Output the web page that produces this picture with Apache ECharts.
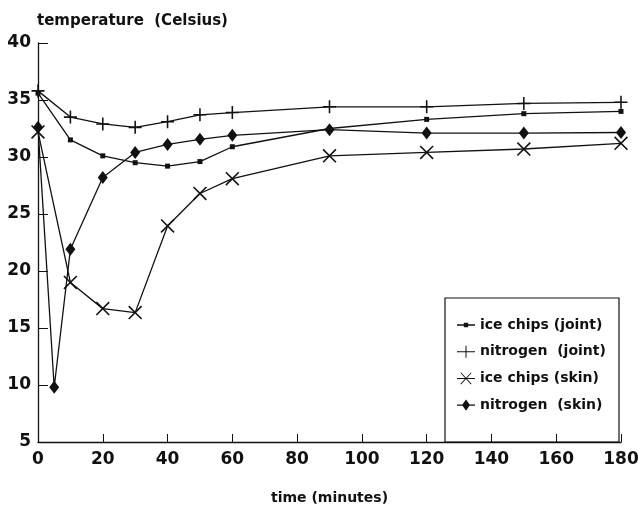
<!DOCTYPE html>
<html>
<head>
<meta charset="utf-8">
<script src="https://cdn.jsdelivr.net/npm/echarts@6/dist/echarts.min.js"></script>
<style>html,body{margin:0;padding:0;background:#fff}#c{width:638px;height:508px}</style>
</head>
<body>
<div id="c"></div>
<script>
const times = [0, 10, 20, 30, 40, 50, 60, 90, 120, 150, 180];
const timesN2Skin = [0, 5, 10, 20, 30, 40, 50, 60, 90, 120, 150, 180];
const iceJoint = [35.6, 31.5, 30.1, 29.5, 29.2, 29.6, 30.9, 32.5, 33.3, 33.8, 34.0];
const n2Joint = [35.8, 33.5, 32.9, 32.6, 33.1, 33.7, 33.9, 34.4, 34.4, 34.7, 34.8];
const iceSkin = [32.2, 19.0, 16.7, 16.35, 23.95, 26.8, 28.1, 30.1, 30.4, 30.7, 31.2];
const n2Skin = [32.6, 9.8, 21.9, 28.2, 30.4, 31.1, 31.55, 31.9, 32.4, 32.1, 32.1, 32.15];
const seriesNames = ['ice chips (joint)', 'nitrogen  (joint)', 'ice chips (skin)', 'nitrogen  (skin)'];

const pair = (xs, ys) => xs.map((x, i) => [x, ys[i]]);
const FONT = 'DejaVu Sans';
const plusPath = 'path://M0,4.4H10V5.6H0Z M4.4,0H5.6V10H4.4Z';
const crossPath = 'path://M0,0.8L0.8,0L10,9.2L9.2,10Z M9.2,0L10,0.8L0.8,10L0,9.2Z';

const iconSquare = 'path://M2,5.5H16V6.5H2Z M7.3,4.3H10.7V7.7H7.3Z';
const iconPlus = 'path://M0,5.5H18V6.5H0Z M8.5,0H9.5V12H8.5Z';
const iconCross = 'path://M0,5.5H18V6.5H0Z M3.5,0.6L4.1,0L14.5,11.4L13.9,12Z M13.9,0L14.5,0.6L4.1,12L3.5,11.4Z';
const iconDiamond = 'path://M1,5.5H17V6.5H1Z M9,1L12.5,6L9,11L5.5,6Z';

const base = {
  type: 'line',
  lineStyle: { color: '#111', width: 1.3 },
  itemStyle: { color: '#111' },
  showAllSymbol: true,
  z: 3
};

const chart = echarts.init(document.getElementById('c'));
chart.setOption({
  animation: false,
  backgroundColor: '#fff',
  title: {
    text: 'temperature  (Celsius)',
    left: 32, top: 9,
    textStyle: { fontFamily: FONT, fontWeight: 'bold', fontSize: 15, color: '#111' }
  },
  grid: { left: 38, right: 17, top: 43, bottom: 66, containLabel: false, outerBoundsMode: 'none' },
  xAxis: {
    type: 'value', min: 0, max: 180, interval: 20,
    name: 'time (minutes)', nameLocation: 'middle', nameGap: 49,
    nameTextStyle: { fontFamily: FONT, fontWeight: 'bold', fontSize: 14, color: '#111' },
    axisLine: { lineStyle: { color: '#111', width: 1.3 } },
    axisTick: { inside: true, length: 8, lineStyle: { color: '#111' } },
    axisLabel: { fontFamily: FONT, fontWeight: 'bold', fontSize: 17, color: '#111', margin: 9 },
    splitLine: { show: false }
  },
  yAxis: {
    type: 'value', min: 5, max: 40, interval: 5,
    axisLine: { show: true, lineStyle: { color: '#111', width: 1.3 } },
    axisTick: { show: true, inside: true, length: 10, lineStyle: { color: '#111' } },
    axisLabel: { fontFamily: FONT, fontWeight: 'bold', fontSize: 17, color: '#111', margin: 7 },
    splitLine: { show: false }
  },
  legend: {
    orient: 'vertical', left: 457, top: 318, padding: 0,
    itemWidth: 18, itemHeight: 12, itemGap: 12.7,
    symbolKeepAspect: true,
    textStyle: { fontFamily: FONT, fontWeight: 'bold', fontSize: 14, color: '#111' },
    data: [
      { name: seriesNames[0], icon: iconSquare },
      { name: seriesNames[1], icon: iconPlus },
      { name: seriesNames[2], icon: iconCross },
      { name: seriesNames[3], icon: iconDiamond }
    ]
  },
  graphic: [{
    type: 'rect', z: 1,
    shape: { x: 445, y: 298, width: 174, height: 144 },
    style: { fill: 'none', stroke: '#111', lineWidth: 1.2 }
  }],
  series: [
    Object.assign({}, base, { name: seriesNames[0], data: pair(times, iceJoint), symbol: 'rect', symbolSize: 5 }),
    Object.assign({}, base, { name: seriesNames[1], data: pair(times, n2Joint), symbol: plusPath, symbolSize: 13 }),
    Object.assign({}, base, { name: seriesNames[2], data: pair(times, iceSkin), symbol: crossPath, symbolSize: 14 }),
    Object.assign({}, base, { name: seriesNames[3], data: pair(timesN2Skin, n2Skin), symbol: 'diamond', symbolSize: [10, 13] })
  ]
});
</script>
</body>
</html>
